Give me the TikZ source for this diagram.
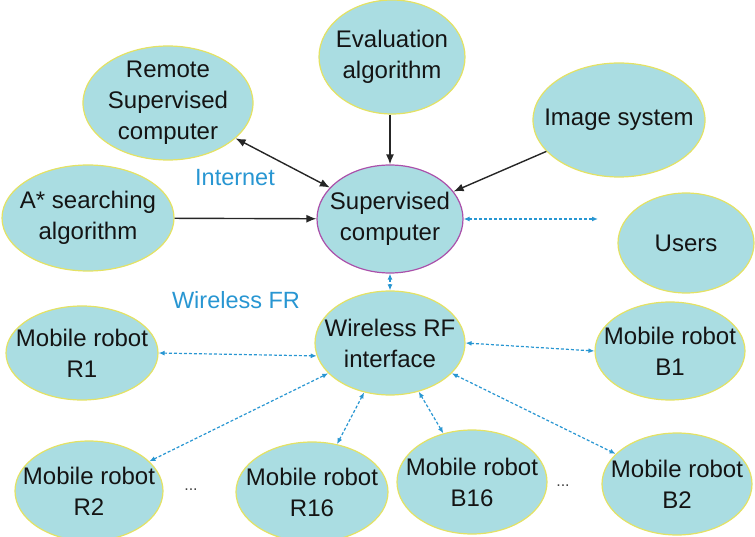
\documentclass[tikz,border=0pt]{standalone}
\usepackage{fontspec}
\setmainfont{Liberation Sans}
\usetikzlibrary{shapes.geometric,arrows.meta}
\definecolor{bubfill}{RGB}{170,221,226}
\definecolor{bubedge}{RGB}{228,226,100}
\definecolor{supedge}{RGB}{170,80,170}
\definecolor{netblue}{RGB}{40,150,210}
\tikzset{
  bub/.style={ellipse, draw=bubedge, line width=1.2pt, fill=bubfill, inner sep=0pt},
  txt/.style={align=center, font=\fontsize{24}{31}\selectfont, text=black!92},
  blab/.style={font=\fontsize{23.5}{26}\selectfont, text=netblue},
  solidarrow/.style={-{Latex[length=10pt,width=8pt]}, line width=1.4pt, black!85},
  wifi/.style={{Latex[length=6pt,width=5pt]}-{Latex[length=6pt,width=5pt]}, dashed, dash pattern=on 3pt off 2pt, line width=1.2pt, netblue},
}
\newcommand{\bubble}[6]{%
  \node[bub, #6, minimum width=#3pt, minimum height=#4pt,
        label={[txt]center:{#5}}] (#1) at (#2) {};}
\begin{document}
\begin{tikzpicture}[x=1pt,y=-1pt]
\useasboundingbox (0,0) rectangle (755,537);
\bubble{rem}{168,103}{170}{114}{Remote\\Supervised\\computer}{}
\bubble{eval}{392,57}{146}{114}{Evaluation\\algorithm}{}
\bubble{img}{619,120}{172}{114}{Image system}{}
\bubble{astar}{88,218}{172}{106}{A* searching\\algorithm}{}
\bubble{sup}{390,219}{146}{108}{Supervised\\computer}{draw=supedge}
\bubble{users}{686,243}{136}{100}{Users}{}
\bubble{wrf}{390,343}{150}{104}{Wireless RF\\interface}{}
\bubble{r1}{82,353}{152}{94}{Mobile robot\\R1}{}
\bubble{b1}{670,351}{150}{98}{Mobile robot\\B1}{}
\bubble{r2}{89,491}{148}{100}{Mobile robot\\R2}{}
\bubble{r16}{312,492}{152}{100}{Mobile robot\\R16}{}
\bubble{b16}{472,482}{150}{104}{Mobile robot\\B16}{}
\bubble{b2}{677,484}{150}{102}{Mobile robot\\B2}{}

\node[blab] (inet) at (235,178) {Internet};
\node[blab] (wfr) at (236,300) {Wireless FR};
\node[font=\fontsize{16}{16}\selectfont, text=black!75] (dots1) at (191,490) {...};
\node[font=\fontsize{16}{16}\selectfont, text=black!75] (dots2) at (563,486) {...};
\coordinate (ufree) at (598,219);

\draw[solidarrow, {Latex[length=10pt,width=8pt]}-{Latex[length=10pt,width=8pt]}] (rem) -- (sup);
\draw[solidarrow] (eval.south -| sup.north) -- (sup.north);
\draw[solidarrow] (img) -- (sup);
\draw[solidarrow] (astar) -- (sup);

\draw[wifi] (sup.east) -- (ufree);
\draw[wifi] (sup.south) -- (wrf.north);
\draw[wifi] (r1.east) -- (wrf.190);
\draw[wifi] (r2) -- (wrf);
\draw[wifi] (r16) -- (wrf);
\draw[wifi] (b16) -- (wrf);
\draw[wifi] (wrf.east) -- (b1.west);
\draw[wifi] (wrf) -- (b2);
\end{tikzpicture}
\end{document}
